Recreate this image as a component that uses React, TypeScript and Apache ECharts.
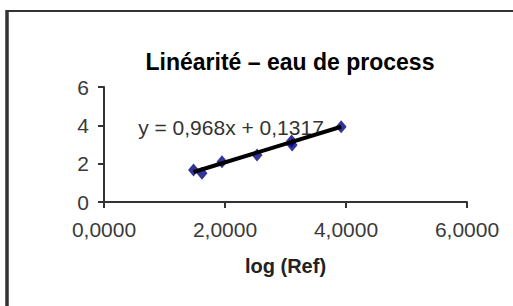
import React, { useEffect, useRef } from "react";
import * as echarts from "echarts";

const titleText = "Linéarité – eau de process";
const xAxisName = "log (Ref)";
const logRef = [1.48, 1.62, 1.95, 2.53, 3.10, 3.11, 3.92];
const measured = [1.67, 1.50, 2.10, 2.45, 3.18, 2.98, 3.92];
const slope = 0.968;
const intercept = 0.1317;
const equationText = "y = 0,968x + 0,1317";
const xTicks = [0, 2, 4, 6];
const yTicks = [0, 2, 4, 6];

export default function App() {
  const ref = useRef<HTMLDivElement>(null);
  useEffect(() => {
    document.body.style.margin = "0";
    const chart = echarts.init(ref.current!, null, { renderer: "svg" });
    const xmin = Math.min(...logRef);
    const xmax = Math.max(...logRef);
    const trend = [xmin, xmax].map((x) => [x, slope * x + intercept]);
    const font = "'Liberation Sans', Arial, sans-serif";
    chart.setOption({
      animation: false,
      backgroundColor: "#ffffff",
      title: {
        text: titleText,
        left: 285,
        textAlign: "center",
        top: 45,
        textStyle: { fontFamily: font, fontSize: 23, fontWeight: "bold", color: "#000" },
      },
      grid: { left: 104, right: 46, top: 87, bottom: 104 },
      xAxis: {
        type: "value",
        min: xTicks[0],
        max: xTicks[xTicks.length - 1],
        interval: 2,
        name: xAxisName,
        nameLocation: "middle",
        nameGap: 54,
        nameTextStyle: { fontFamily: font, fontSize: 20, fontWeight: "bold", color: "#222" },
        splitLine: { show: false },
        axisLine: { lineStyle: { color: "#333", width: 2 } },
        axisTick: { show: true, length: 6, lineStyle: { color: "#333", width: 2 } },
        axisLabel: {
          fontFamily: font,
          fontSize: 21,
          color: "#3a3a3a",
          margin: 17,
          formatter: (v: number) => v.toFixed(4).replace(".", ","),
        },
      },
      yAxis: {
        type: "value",
        min: yTicks[0],
        max: yTicks[yTicks.length - 1],
        interval: 2,
        splitLine: { show: false },
        axisLine: { lineStyle: { color: "#333", width: 2 } },
        axisTick: { show: true, length: 6, lineStyle: { color: "#333", width: 2 } },
        axisLabel: { fontFamily: font, fontSize: 21, color: "#3a3a3a", margin: 15 },
      },
      series: [
        {
          type: "scatter",
          data: logRef.map((x, i) => [x, measured[i]]),
          symbol: "diamond",
          symbolSize: [11, 13],
          itemStyle: { color: "#000080" },
          z: 2,
        },
        {
          type: "line",
          data: trend,
          showSymbol: false,
          symbol: "none",
          lineStyle: { color: "#000", width: 4 },
          z: 3,
        },
      ],
      graphic: [
        {
          type: "text",
          x: 231,
          y: 127,
          style: {
            text: equationText,
            font: `21px ${font}`,
            fill: "#333",
            align: "center",
            verticalAlign: "middle",
          },
          z: 1,
        },
        { type: "line", shape: { x1: 7, y1: 11, x2: 513, y2: 11 }, style: { stroke: "#333", lineWidth: 2 } },
        { type: "line", shape: { x1: 7, y1: 10, x2: 7, y2: 306 }, style: { stroke: "#333", lineWidth: 3.5 } },
      ],
    });
    return () => chart.dispose();
  }, []);
  return <div ref={ref} style={{ width: 513, height: 306 }} />;
}
